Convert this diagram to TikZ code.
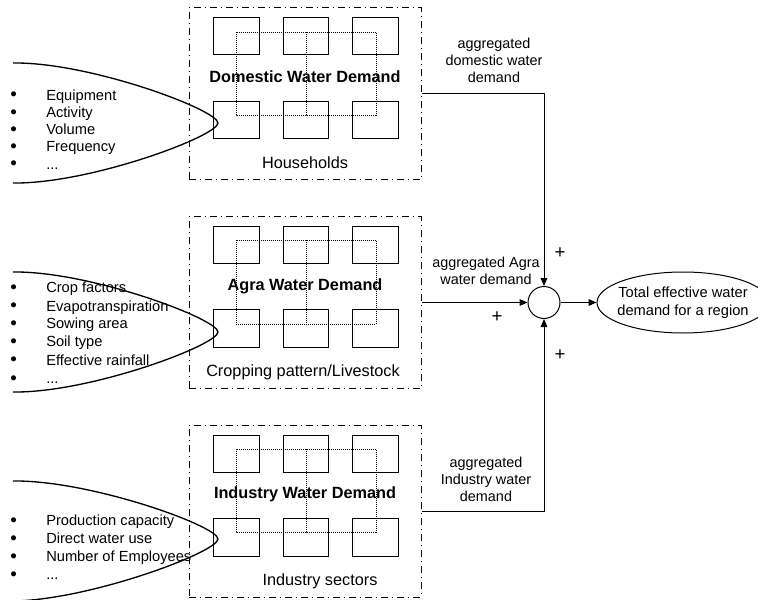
\documentclass[tikz,border=0pt]{standalone}
\usepackage{fontspec}
\setmainfont{Liberation Sans}
\usetikzlibrary{arrows.meta,shapes.geometric}
\tikzset{
  panel/.style={draw=black, line width=0.75pt, dash pattern=on 5.25pt off 3pt on 0.75pt off 3pt, minimum width=174pt, minimum height=129pt, inner sep=0pt},
  unitbox/.style={draw=black, line width=0.75pt},
  linkbox/.style={draw=black, line width=0.75pt, dash pattern=on 0.75pt off 0.75pt},
  lens/.style={draw=black, line width=1pt},
  paneltitle/.style={font=\fontsize{12.2pt}{14pt}\selectfont\bfseries, inner sep=0pt},
  panelcaption/.style={font=\fontsize{12.2pt}{14pt}\selectfont, inner sep=0pt},
  listitem/.style={anchor=west, font=\fontsize{11pt}{13pt}\selectfont, inner sep=0pt, text height=8pt, text depth=2.5pt},
  flowlabel/.style={font=\fontsize{10.8pt}{12.75pt}\selectfont, align=center, inner sep=0pt},
  plussign/.style={font=\fontsize{14pt}{16pt}\selectfont, inner sep=0pt},
  flow/.style={draw=black, line width=0.75pt, -{Triangle[length=6pt, width=5pt]}},
}
\newcommand{\bul}{\makebox[27pt][l]{\raisebox{-0.5pt}{\fontsize{14pt}{14pt}\selectfont\textbullet}}}

\begin{document}
\begin{tikzpicture}[x=0.75pt, y=-0.75pt]
\useasboundingbox (0,0) rectangle (758,600);
% demand panels
\node[panel] (dom) at (305,93.5) {};
\node[panel] (agra) at (305,302.5) {};
\node[panel] (ind) at (305,511) {};
% domestic
\draw[unitbox] (213,17) rectangle (259,54);
\draw[unitbox] (283,17) rectangle (328,54);
\draw[unitbox] (352,17) rectangle (398,54);
\draw[unitbox] (213,101) rectangle (259,138);
\draw[unitbox] (283,101) rectangle (328,138);
\draw[unitbox] (352,101) rectangle (398,138);
\draw[linkbox] (236,32) rectangle (376,115);
\draw[linkbox] (306,32) rectangle (376,115);
\node[paneltitle] (domtitle) at (305,77) {Domestic Water Demand};
\node[panelcaption] (domcap) at (305,163) {Households};
% agra
\draw[unitbox] (213,226) rectangle (259,263);
\draw[unitbox] (283,226) rectangle (328,263);
\draw[unitbox] (352,226) rectangle (398,263);
\draw[unitbox] (213,309) rectangle (259,347);
\draw[unitbox] (283,309) rectangle (328,347);
\draw[unitbox] (352,309) rectangle (398,347);
\draw[linkbox] (236,240) rectangle (376,324);
\draw[linkbox] (306,240) rectangle (376,324);
\node[paneltitle] (agratitle) at (305,286) {Agra Water Demand};
\node[panelcaption] (agracap) at (303,372) {Cropping pattern/Livestock};
% industry
\draw[unitbox] (213,435) rectangle (259,472);
\draw[unitbox] (283,435) rectangle (328,472);
\draw[unitbox] (352,435) rectangle (398,472);
\draw[unitbox] (213,518) rectangle (259,556);
\draw[unitbox] (283,518) rectangle (328,556);
\draw[unitbox] (352,518) rectangle (398,556);
\draw[linkbox] (236,449) rectangle (376,532);
\draw[linkbox] (306,449) rectangle (376,532);
\node[paneltitle] (indtitle) at (305,494) {Industry Water Demand};
\node[panelcaption] (indcap) at (320,581) {Industry sectors};
% factor lists
\draw[lens] (13,63) .. controls (90,62) and (218,110) .. (218,123) .. controls (218,136) and (90,184) .. (13,183);
\node[listitem] (d1) at (10,96.5) {\bul Equipment};
\node[listitem] (d2) at (10,113.8) {\bul Activity};
\node[listitem] (d3) at (10,131) {\bul Volume};
\node[listitem] (d4) at (10,148.3) {\bul Frequency};
\node[listitem] (d5) at (10,165.5) {\bul ...};
\draw[lens] (13,272) .. controls (90,271) and (218,319) .. (218,332) .. controls (218,345) and (90,393) .. (13,392);
\node[listitem] (a1) at (10,289) {\bul Crop factors};
\node[listitem] (a2) at (10,307.5) {\bul Evapotranspiration};
\node[listitem] (a3) at (10,325) {\bul Sowing area};
\node[listitem] (a4) at (10,343) {\bul Soil type};
\node[listitem] (a5) at (10,361.5) {\bul Effective rainfall};
\node[listitem] (a6) at (10,380) {\bul ...};
\draw[lens] (13,481) .. controls (90,480) and (218,526) .. (218,539) .. controls (218,552) and (90,600) .. (13,601);
\node[listitem] (i1) at (10,522) {\bul Production capacity};
\node[listitem] (i2) at (10,540) {\bul Direct water use};
\node[listitem] (i3) at (10,558) {\bul Number of Employees};
\node[listitem] (i4) at (10,576) {\bul ...};
% aggregation
\node[draw=black, line width=0.75pt, circle, minimum size=24pt, inner sep=0pt] (sum) at (544,302.5) {};
\node[draw=black, line width=0.75pt, ellipse, minimum width=129pt, minimum height=45.75pt, inner xsep=-6pt, inner ysep=0pt, align=center, font=\fontsize{11pt}{13.5pt}\selectfont] (total) at (683,302.5) {Total effective water\\demand for a region};
\draw[flow] (dom.east) -| (sum);
\draw[flow] (agra.east) -- (sum);
\draw[flow] (ind.east) -| (sum);
\draw[flow] (sum) -- (total);
\node[flowlabel] (domlabel) at (494,60) {aggregated\\domestic water\\demand};
\node[flowlabel] (agralabel) at (486,270.5) {aggregated Agra\\water demand};
\node[flowlabel] (indlabel) at (486,479) {aggregated\\Industry water\\demand};
\node[plussign] (p1) at (560,253) {+};
\node[plussign] (p2) at (497,317) {+};
\node[plussign] (p3) at (560,355) {+};
\end{tikzpicture}
\end{document}
